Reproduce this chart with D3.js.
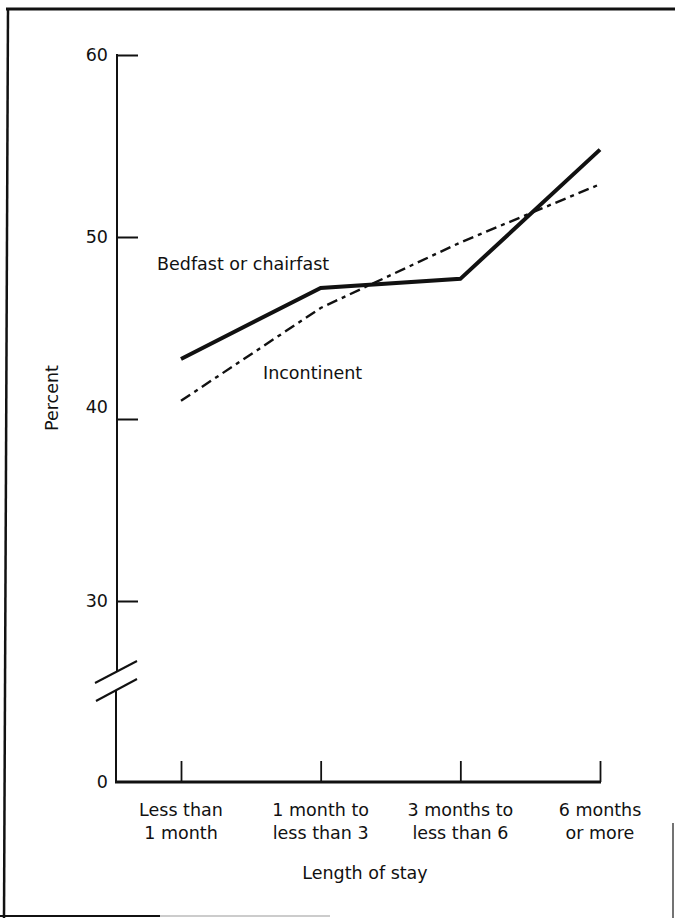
<!DOCTYPE html>
<html>
<head>
<meta charset="utf-8">
<script src="https://cdn.jsdelivr.net/npm/d3@7"></script>
<style>
  html, body { margin: 0; padding: 0; background: #fff; }
  svg { display: block; }
  text { font-family: "DejaVu Sans", sans-serif; fill: #111; }
</style>
</head>
<body>
<svg id="chart" width="675" height="918"></svg>
<script>
// ---- data ----
const categories = ["Less than|1 month", "1 month to|less than 3", "3 months to|less than 6", "6 months|or more"];
const bedfast = [43.3, 47.2, 47.7, 54.8];
const incontinent = [41.0, 46.1, 49.7, 52.9];
const yTicks = [0, 30, 40, 50, 60];
const seriesLabels = ["Bedfast or chairfast", "Incontinent"];
const xTitle = "Length of stay";
const yTitle = "Percent";

const svg = d3.select("#chart");
const ink = "#111";

// ---- scales ----
const x = d3.scalePoint().domain(categories).range([181, 600]).padding(0);
// broken axis: 0 to 30 compressed, 30 to 60 linear
const y = d3.scaleLinear().domain([0, 30, 60]).range([782, 601, 55]);

const axisX = 117;
const baseY = y(0);

// ---- page border ----
svg.append("line").attr("x1", 6).attr("y1", 9).attr("x2", 675).attr("y2", 9)
  .attr("stroke", ink).attr("stroke-width", 3);
svg.append("line").attr("x1", 8).attr("y1", 8).attr("x2", 4).attr("y2", 918)
  .attr("stroke", ink).attr("stroke-width", 2.5);
svg.append("line").attr("x1", 0).attr("y1", 916).attr("x2", 160).attr("y2", 916)
  .attr("stroke", ink).attr("stroke-width", 2);
svg.append("line").attr("x1", 160).attr("y1", 916).attr("x2", 330).attr("y2", 916)
  .attr("stroke", "#999").attr("stroke-width", 1);
svg.append("line").attr("x1", 673).attr("y1", 823).attr("x2", 673).attr("y2", 918)
  .attr("stroke", "#444").attr("stroke-width", 1.5);

// ---- y axis ----
const gy = svg.append("g").attr("transform", `translate(${axisX},0)`)
  .call(d3.axisLeft(y).tickValues(yTicks).tickFormat(d3.format("d"))
    .tickSizeInner(-21).tickSizeOuter(0).tickPadding(9));
gy.select(".domain").remove();
gy.selectAll(".tick line").attr("stroke", ink).attr("stroke-width", 2)
  .filter(d => d === 0).remove();
gy.selectAll(".tick text").attr("font-size", 17.5).attr("fill", ink)
  .attr("font-family", "DejaVu Sans, sans-serif")
  .attr("dy", d => d === 40 ? "-0.4em" : "0.32em");

// y axis line with break
const breakTop = 672, breakBot = 690;
svg.append("line").attr("x1", axisX).attr("y1", y(60) - 1).attr("x2", axisX).attr("y2", breakTop)
  .attr("stroke", ink).attr("stroke-width", 2);
svg.append("line").attr("x1", axisX - 1).attr("y1", breakBot).attr("x2", axisX - 1).attr("y2", baseY + 1)
  .attr("stroke", ink).attr("stroke-width", 2);
svg.append("line").attr("x1", 95).attr("y1", 683).attr("x2", 137).attr("y2", 661)
  .attr("stroke", ink).attr("stroke-width", 2);
svg.append("line").attr("x1", 96).attr("y1", 701).attr("x2", 137).attr("y2", 679)
  .attr("stroke", ink).attr("stroke-width", 2);

// ---- x axis ----
const gx = svg.append("g").attr("transform", `translate(0,${baseY})`)
  .call(d3.axisBottom(x).tickSizeInner(-21).tickSizeOuter(0).tickFormat(""));
gx.select(".domain").remove();
gx.selectAll(".tick line").attr("stroke", ink).attr("stroke-width", 1.8);
svg.append("line").attr("x1", axisX - 2).attr("y1", baseY).attr("x2", x(categories[3]) + 1).attr("y2", baseY)
  .attr("stroke", ink).attr("stroke-width", 3);

const lab = svg.append("g");
categories.forEach(c => {
  const parts = c.split("|");
  const t = lab.append("text").attr("text-anchor", "middle").attr("font-size", 17.5)
    .attr("x", x(c)).attr("y", baseY + 34);
  parts.forEach((p, i) => {
    t.append("tspan").attr("x", x(c)).attr("dy", i === 0 ? 0 : 23).text(p);
  });
});

svg.append("text").attr("text-anchor", "middle").attr("font-size", 17.5)
  .attr("x", 365).attr("y", 879).text(xTitle);
svg.append("text").attr("text-anchor", "middle").attr("font-size", 17.5)
  .attr("transform", "translate(58,398) rotate(-90)").text(yTitle);

// ---- series ----
const line = d3.line().x((d, i) => x(categories[i])).y(d => y(d));
svg.append("path").datum(incontinent).attr("d", line)
  .attr("fill", "none").attr("stroke", ink).attr("stroke-width", 2.4)
  .attr("stroke-dasharray", "11,5,4,5");
svg.append("path").datum(bedfast).attr("d", line)
  .attr("fill", "none").attr("stroke", ink).attr("stroke-width", 4)
  .attr("stroke-linejoin", "miter");

// series labels
svg.append("text").attr("font-size", 17.5).attr("x", 157).attr("y", 270).text(seriesLabels[0]);
svg.append("text").attr("font-size", 17.5).attr("x", 263).attr("y", 379).text(seriesLabels[1]);
</script>
</body>
</html>
